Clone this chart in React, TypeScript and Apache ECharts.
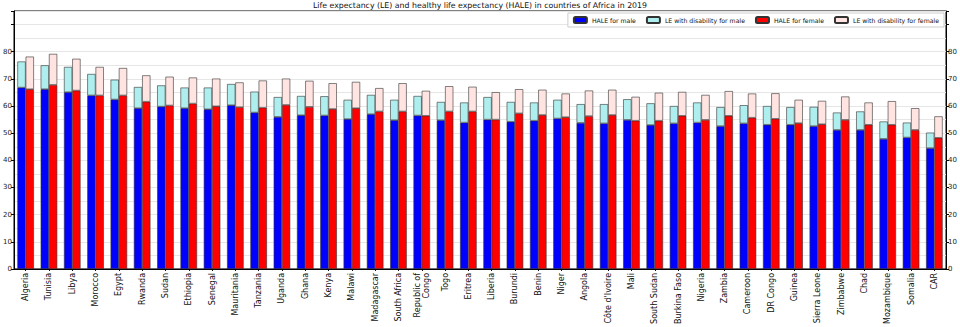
import React, { useEffect, useRef } from "react";
import * as echarts from "echarts";

const countries = [
  "Algeria", "Tunisia", "Libya", "Morocco", "Egypt", "Rwanda", "Sudan", "Ethiopia", "Senegal", "Mauritania",
  "Tanzania", "Uganda", "Ghana", "Kenya", "Malawi", "Madagascar", "South Africa", "Republic of\nCongo", "Togo", "Eritrea",
  "Liberia", "Burundi", "Benin", "Niger", "Angola", "Côte d'Ivoire", "Mali", "South Sudan", "Burkina Faso", "Nigeria",
  "Zambia", "Cameroon", "DR Congo", "Guinea", "Sierra Leone", "Zimbabwe", "Chad", "Mozambique", "Somalia", "CAR",
];

const maleHALE = [
  66.8, 66.2, 65.1, 63.9, 62.4, 59.2, 59.8, 59.2, 58.8, 60.3,
  57.6, 56.0, 56.6, 56.5, 55.2, 57.0, 54.8, 56.5, 54.8, 53.9,
  55.0, 54.2, 54.6, 55.4, 53.8, 53.6, 54.9, 53.0, 53.6, 53.9,
  52.6, 53.6, 53.1, 53.1, 52.6, 51.2, 51.2, 47.9, 48.4, 44.5,
];
const maleLE = [
  76.4, 75.0, 74.4, 71.8, 69.7, 67.0, 67.6, 66.8, 66.8, 68.1,
  65.3, 63.3, 63.7, 63.6, 62.3, 64.1, 62.3, 63.7, 61.5, 61.3,
  63.3, 61.5, 61.3, 62.3, 60.7, 60.7, 62.5, 61.0, 60.0, 61.3,
  59.6, 60.3, 60.0, 59.6, 59.7, 57.6, 58.0, 54.3, 53.9, 50.2,
];
const femaleHALE = [
  66.2, 67.8, 65.7, 63.9, 63.9, 61.6, 60.2, 60.9, 59.9, 59.6,
  59.4, 60.4, 59.7, 58.9, 59.2, 58.0, 58.0, 56.4, 58.0, 58.0,
  55.0, 57.3, 56.7, 55.9, 56.3, 56.7, 54.6, 54.6, 56.4, 54.9,
  56.4, 55.7, 55.3, 53.7, 53.3, 54.9, 53.1, 53.1, 51.2, 48.3,
];
const femaleLE = [
  78.2, 79.2, 77.4, 74.4, 74.0, 71.3, 70.8, 70.5, 70.1, 68.7,
  69.4, 70.1, 69.3, 68.4, 68.9, 66.6, 68.4, 65.6, 67.3, 67.1,
  65.1, 66.2, 66.0, 64.6, 65.7, 66.0, 63.4, 64.9, 65.2, 64.1,
  65.5, 64.6, 64.7, 62.3, 61.9, 63.5, 61.3, 61.8, 59.2, 56.2,
];

const titleText = "Life expectancy (LE) and healthy life expectancy (HALE) in countries of Africa in 2019";
const seriesNames = ["HALE for male", "LE with disability for male", "HALE for female", "LE with disability for female"];

export default function App() {
  const ref = useRef<HTMLDivElement>(null);

  useEffect(() => {
    if (!ref.current) return;
    const chart = echarts.init(ref.current, undefined, { renderer: "svg" });
    const font = "DejaVu Sans";
    const maleDis = maleLE.map((v, i) => +(v - maleHALE[i]).toFixed(2));
    const femaleDis = femaleLE.map((v, i) => +(v - femaleHALE[i]).toFixed(2));
    const border = { borderColor: "#333", borderWidth: 0.6 };
    const yLabel = (v: number) => (v <= 80 ? String(v) : "");

    chart.setOption({
      animation: false,
      textStyle: { fontFamily: font },
      title: {
        text: titleText,
        left: "center",
        top: 1,
        padding: 0,
        textStyle: { fontSize: 7.8, fontWeight: "normal", color: "#111", fontFamily: font },
      },
      legend: {
        data: seriesNames,
        right: 16,
        top: 13,
        itemWidth: 13,
        itemHeight: 6,
        itemGap: 10,
        padding: [3, 5],
        borderColor: "#ccc",
        borderWidth: 1,
        backgroundColor: "#fff",
        textStyle: { fontSize: 6.2, color: "#111", fontFamily: font },
      },
      grid: {
        left: 14,
        right: 14,
        top: 11,
        bottom: 58,
        show: true,
        borderColor: "#000",
        borderWidth: 1,
        backgroundColor: "transparent",
      },
      xAxis: {
        type: "category",
        data: countries,
        axisLine: { show: true, lineStyle: { color: "#000", width: 1 } },
        axisTick: { show: true, alignWithLabel: true, length: 2, lineStyle: { color: "#000" } },
        axisLabel: {
          rotate: 90,
          interval: 0,
          fontSize: 8,
          color: "#111",
          margin: 4,
          fontFamily: font,
          lineHeight: 9,
        },
      },
      yAxis: [
        {
          type: "value",
          min: 0,
          max: 95,
          interval: 10,
          position: "left",
          axisLine: { show: true, lineStyle: { color: "#000" } },
          axisTick: { show: true, length: 3, lineStyle: { color: "#000" } },
          axisLabel: { formatter: yLabel, fontSize: 7, color: "#222", margin: 2, fontFamily: font },
          splitLine: { show: false },
        },
        {
          type: "value",
          min: 0,
          max: 95,
          interval: 10,
          position: "right",
          axisLine: { show: true, lineStyle: { color: "#000" } },
          axisTick: { show: true, length: 3, lineStyle: { color: "#000" } },
          axisLabel: { formatter: yLabel, fontSize: 7, color: "#222", margin: 2, fontFamily: font },
          splitLine: { show: false },
        },
        {
          type: "value",
          min: 0,
          max: 95,
          interval: 5,
          position: "left",
          axisLine: { show: false },
          axisTick: { show: false },
          axisLabel: { show: false },
          splitLine: { show: true, lineStyle: { color: "#e6e6e6", width: 1 } },
        },
      ],
      series: [
        {
          name: seriesNames[0],
          type: "bar",
          stack: "male",
          data: maleHALE,
          barGap: "0%",
          barCategoryGap: "29%",
          itemStyle: { color: "#0000ff", ...border },
        },
        {
          name: seriesNames[1],
          type: "bar",
          stack: "male",
          data: maleDis,
          itemStyle: { color: "#afeeee", ...border },
        },
        {
          name: seriesNames[2],
          type: "bar",
          stack: "female",
          data: femaleHALE,
          itemStyle: { color: "#ff0000", ...border },
        },
        {
          name: seriesNames[3],
          type: "bar",
          stack: "female",
          data: femaleDis,
          itemStyle: { color: "#ffe4e1", ...border },
        },
      ],
    });

    return () => chart.dispose();
  }, []);

  return (
    <div
      ref={ref}
      style={{ position: "fixed", left: 0, top: 0, width: 960, height: 327, background: "#fff" }}
    />
  );
}
